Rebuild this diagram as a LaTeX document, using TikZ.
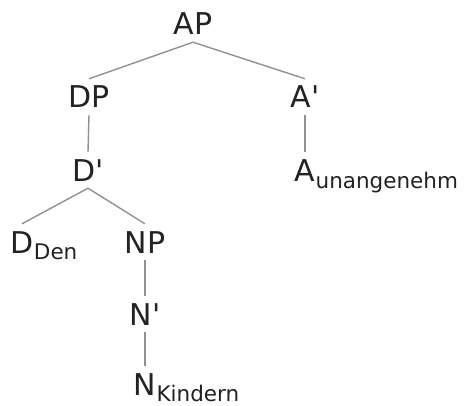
\documentclass[tikz,border=0pt]{standalone}
\usepackage{fontspec}
\setmainfont{DejaVu Sans}
\definecolor{txt}{RGB}{34,34,34}
\definecolor{edge}{RGB}{145,145,145}
\begin{document}
\begin{tikzpicture}[x=1pt,y=-1pt,
  cat/.style={font=\fontsize{30}{30}\selectfont, text=txt, inner xsep=0pt,
    inner ysep=7pt, text height=22pt, text depth=0pt, anchor=base},
  sub/.style={font=\fontsize{21.5}{21.5}\selectfont, text=txt, inner sep=0pt,
    anchor=base west},
  branch/.style={draw=edge, line width=1.4pt}]
\useasboundingbox (0,0) rectangle (465,406);

% categories
\node[cat] (ap) at (193,35)  {AP};
\node[cat] (dp) at (89,108)  {DP};
\node[cat] (a1) at (305,108) {A\textquotesingle};
\node[cat] (d1) at (88,181)  {D\textquotesingle};
\node[cat] (a)  at (305,181) {A};
\node[sub] (aw) at ([yshift=-7pt]a.base east) {unangenehm};
\node[cat] (d)  at (22,253)  {D};
\node[sub] (dw) at ([yshift=-6pt]d.base east) {Den};
\node[cat] (np) at (145,253) {NP};
\node[cat] (n1) at (145,325) {N\textquotesingle};
\node[cat] (n)  at (145,395) {N};
\node[sub] (nw) at ([yshift=-6pt]n.base east) {Kindern};

% branches
\draw[branch] (ap.south) -- (dp.north);
\draw[branch] (ap.south) -- (a1.north);
\draw[branch] (dp.south) -- (d1.north);
\draw[branch] (a1.south) -- (a.north);
\draw[branch] (d1.south) -- (d.north);
\draw[branch] (d1.south) -- (np.north);
\draw[branch] (np.south) -- (n1.north);
\draw[branch] (n1.south) -- (n.north);
\end{tikzpicture}
\end{document}
